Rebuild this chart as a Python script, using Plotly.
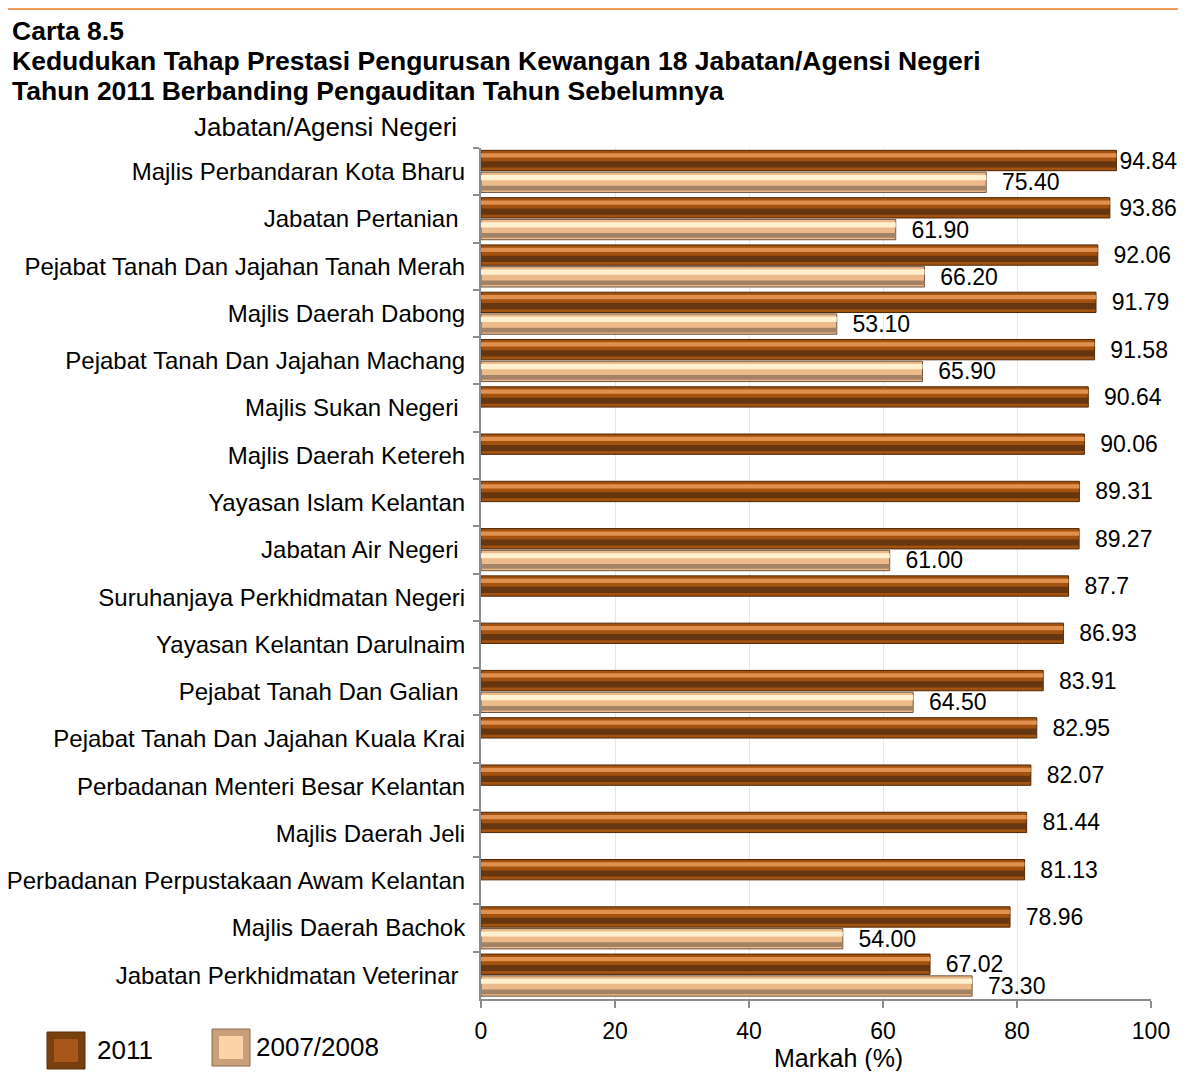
import plotly.graph_objects as go

# the page draws the figure 8px in from the top-left corner, so pixel
# coordinates below are taken from the reference and shifted by OFF
OFF = 8
W, H = 1186 - OFF, 1079 - 2 * OFF
L, R, T, B = 481, 1151, 148, 999   # plot area in reference pixels

agensi = [
    "Majlis Perbandaran Kota Bharu",
    "Jabatan Pertanian\u00a0",
    "Pejabat Tanah Dan Jajahan Tanah Merah",
    "Majlis Daerah Dabong",
    "Pejabat Tanah Dan Jajahan Machang",
    "Majlis Sukan Negeri\u00a0",
    "Majlis Daerah Ketereh",
    "Yayasan Islam Kelantan",
    "Jabatan Air Negeri\u00a0",
    "Suruhanjaya Perkhidmatan Negeri",
    "Yayasan Kelantan Darulnaim",
    "Pejabat Tanah Dan Galian\u00a0",
    "Pejabat Tanah Dan Jajahan Kuala Krai",
    "Perbadanan Menteri Besar Kelantan",
    "Majlis Daerah Jeli",
    "Perbadanan Perpustakaan Awam Kelantan",
    "Majlis Daerah Bachok",
    "Jabatan Perkhidmatan Veterinar\u00a0",
]
markah_2011 = [94.84, 93.86, 92.06, 91.79, 91.58, 90.64, 90.06, 89.31, 89.27,
               87.7, 86.93, 83.91, 82.95, 82.07, 81.44, 81.13, 78.96, 67.02]
label_2011 = ["94.84", "93.86", "92.06", "91.79", "91.58", "90.64", "90.06", "89.31", "89.27",
              "87.7", "86.93", "83.91", "82.95", "82.07", "81.44", "81.13", "78.96", "67.02"]
markah_2007 = [75.40, 61.90, 66.20, 53.10, 65.90, None, None, None, 61.00,
               None, None, 64.50, None, None, None, None, 54.00, 73.30]
x_ticks = [0, 20, 40, 60, 80, 100]


def px(x):
    return (x - L) / (R - L)


def py(y):
    return (B - y) / (B - T)


def gap(v):
    # labels near the right edge are pulled in, as in the original
    if v > 94.5:
        return ""
    if v > 93:
        return "\u00a0"
    return "\u00a0\u00a0"


FONT = "Liberation Sans, Arial, sans-serif"

fig = go.Figure()

# 2011 bars (upper half of each row), built from 3 layers to mimic the bevel
fig.add_trace(go.Bar(
    y=agensi, x=markah_2011, orientation="h", offset=-0.45, width=0.43,
    marker=dict(color="#A4520F", line=dict(color="#4E2707", width=1)),
    text=[gap(v) + t for v, t in zip(markah_2011, label_2011)],
    textposition="outside", constraintext="none",
    textfont=dict(size=23, color="#000000", family=FONT), cliponaxis=False,
    name="2011", showlegend=False, hoverinfo="x+y"))
fig.add_trace(go.Bar(
    y=agensi, x=markah_2011, orientation="h", offset=-0.39, width=0.09,
    marker=dict(color="#E0914F", line=dict(width=0)), hoverinfo="skip", showlegend=False))
fig.add_trace(go.Bar(
    y=agensi, x=markah_2011, orientation="h", offset=-0.22, width=0.13,
    marker=dict(color="#663610", line=dict(width=0)), hoverinfo="skip", showlegend=False))

# 2007/2008 bars (lower half)
label_2007 = [gap(v) + ("%.2f" % v) if v is not None else "" for v in markah_2007]
fig.add_trace(go.Bar(
    y=agensi, x=markah_2007, orientation="h", offset=0.01, width=0.43,
    marker=dict(color="#EDBB8A", line=dict(color="#6E5440", width=1)),
    text=label_2007, textposition="outside", constraintext="none",
    textfont=dict(size=23, color="#000000", family=FONT), cliponaxis=False,
    name="2007/2008", showlegend=False, hoverinfo="x+y"))
fig.add_trace(go.Bar(
    y=agensi, x=markah_2007, orientation="h", offset=0.07, width=0.11,
    marker=dict(color="#FFF1CF", line=dict(width=0)), hoverinfo="skip", showlegend=False))
fig.add_trace(go.Bar(
    y=agensi, x=markah_2007, orientation="h", offset=0.30, width=0.10,
    marker=dict(color="#A38266", line=dict(width=0)), hoverinfo="skip", showlegend=False))

shapes = [
    dict(type="line", xref="paper", yref="paper", x0=px(0), x1=px(1186), y0=py(9), y1=py(9),
         line=dict(color="#EE7A22", width=1.5)),
    # legend swatches
    dict(type="rect", xref="paper", yref="paper", x0=px(47), x1=px(85), y0=py(1069), y1=py(1032),
         fillcolor="#7A3F0E", line=dict(color="#5A2E0A", width=1)),
    dict(type="rect", xref="paper", yref="paper", x0=px(54), x1=px(78), y0=py(1062), y1=py(1039),
         fillcolor="#A8561A", line=dict(width=0)),
    dict(type="rect", xref="paper", yref="paper", x0=px(212), x1=px(250), y0=py(1066), y1=py(1029),
         fillcolor="#C9A07A", line=dict(color="#8B6A4E", width=1)),
    dict(type="rect", xref="paper", yref="paper", x0=px(219), x1=px(243), y0=py(1059), y1=py(1036),
         fillcolor="#FBD3A6", line=dict(width=0)),
]

annotations = [
    dict(text="<b>Carta 8.5</b>", x=px(10), y=py(31), font=dict(size=26.5)),
    dict(text="<b>Kedudukan Tahap Prestasi Pengurusan Kewangan 18 Jabatan/Agensi Negeri</b>",
         x=px(10), y=py(61), font=dict(size=26.5)),
    dict(text="<b>Tahun 2011 Berbanding Pengauditan Tahun Sebelumnya</b>",
         x=px(10), y=py(91), font=dict(size=26.5)),
    dict(text="Jabatan/Agensi Negeri", x=px(192), y=py(127), font=dict(size=26)),
    dict(text="2011", x=px(95), y=py(1050), font=dict(size=26)),
    dict(text="2007/2008", x=px(254), y=py(1047), font=dict(size=26)),
    dict(text="Markah (%)", x=px(838), y=py(1058), xanchor="center", font=dict(size=25)),
]
for a in annotations:
    a.update(xref="paper", yref="paper", showarrow=False, yanchor="middle")
    a.setdefault("xanchor", "left")
    a["font"].update(family=FONT, color="#000000")

fig.update_layout(
    width=W, height=H,
    margin=dict(l=L - OFF, r=W - (R - OFF), t=T - OFF, b=H - (B - OFF), pad=0, autoexpand=False),
    paper_bgcolor="white", plot_bgcolor="white",
    barmode="overlay", showlegend=False,
    font=dict(family=FONT, color="#000000"),
    shapes=shapes, annotations=annotations,
)
fig.update_xaxes(
    range=[0, 100], tickvals=x_ticks, ticks="outside", ticklen=7, tickcolor="#8C8C8C",
    tickwidth=2, showline=True, linecolor="#8C8C8C", linewidth=2,
    showgrid=True, gridcolor="#EEE6D8", gridwidth=1, zeroline=False,
    tickfont=dict(size=23), ticklabelstandoff=3, automargin=False,
)
fig.update_yaxes(
    autorange="reversed", type="category", ticks="outside", tickson="boundaries",
    ticklen=6, tickcolor="#8C8C8C", tickwidth=2, showline=True, linecolor="#8C8C8C",
    linewidth=2, showgrid=False, tickfont=dict(size=24), ticklabelstandoff=9,
    automargin=False,
)

fig.write_html("out.html")
